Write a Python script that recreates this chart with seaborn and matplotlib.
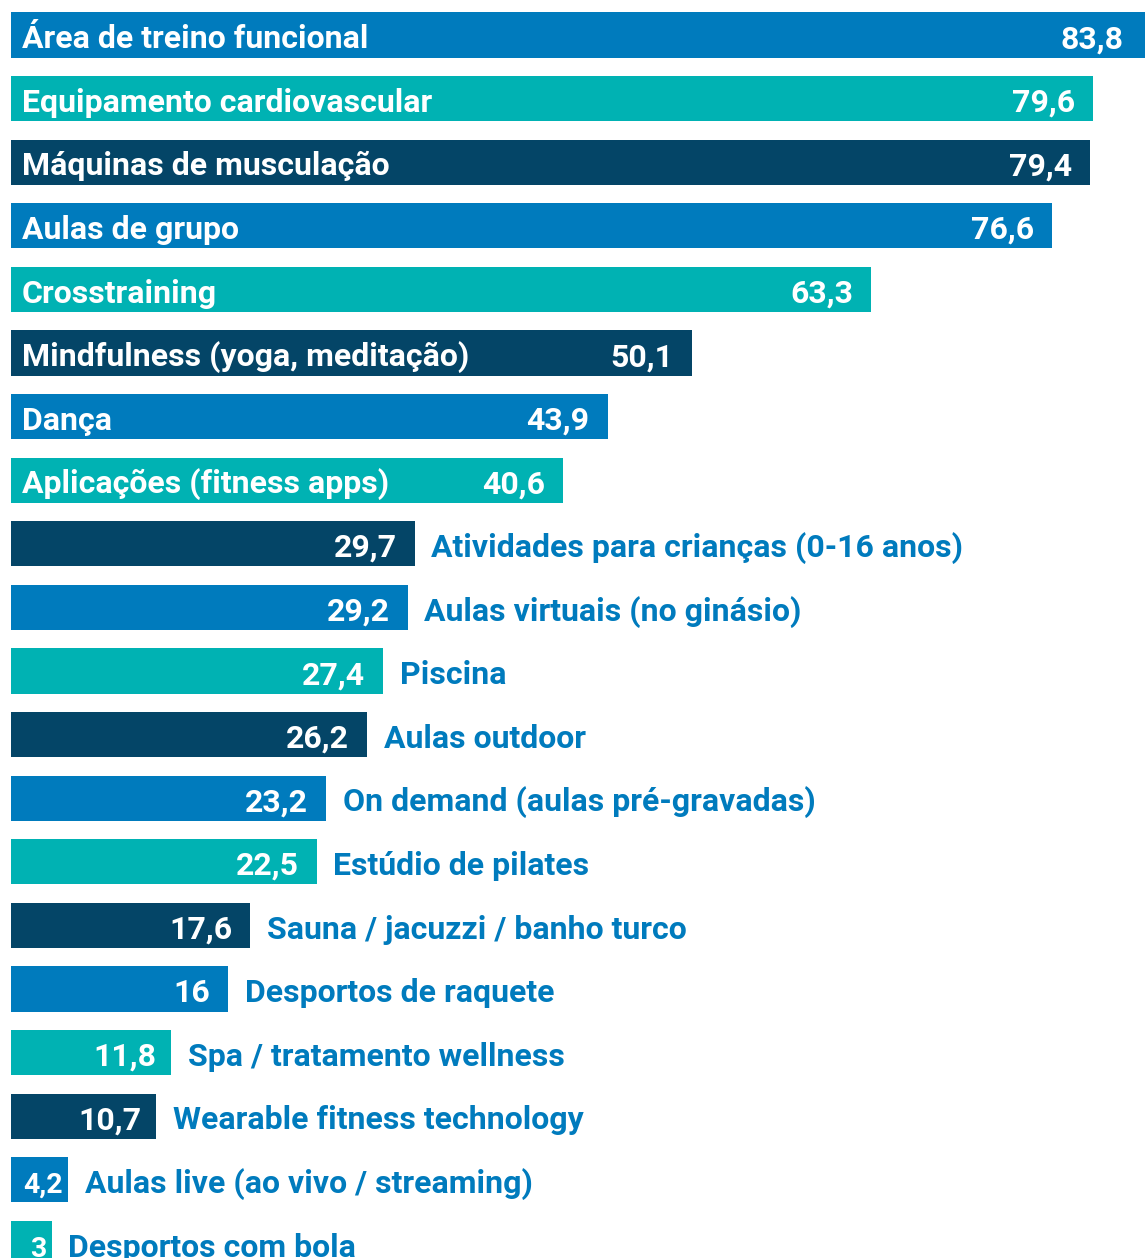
import seaborn as sns
import pandas as pd
import matplotlib.pyplot as plt
from matplotlib import font_manager

# categorias e valores (%)
categorias = [
    "Área de treino funcional", "Equipamento cardiovascular",
    "Máquinas de musculação", "Aulas de grupo", "Crosstraining",
    "Mindfulness (yoga, meditação)", "Dança", "Aplicações (fitness apps)",
    "Atividades para crianças (0-16 anos)", "Aulas virtuais (no ginásio)",
    "Piscina", "Aulas outdoor", "On demand (aulas pré-gravadas)",
    "Estúdio de pilates", "Sauna / jacuzzi / banho turco",
    "Desportos de raquete", "Spa / tratamento wellness",
    "Wearable fitness technology", "Aulas live (ao vivo / streaming)",
    "Desportos com bola",
]
valores = [83.8, 79.6, 79.4, 76.6, 63.3, 50.1, 43.9, 40.6, 29.7, 29.2,
           27.4, 26.2, 23.2, 22.5, 17.6, 16, 11.8, 10.7, 4.2, 3]
rotulos = ["83,8", "79,6", "79,4", "76,6", "63,3", "50,1", "43,9", "40,6",
           "29,7", "29,2", "27,4", "26,2", "23,2", "22,5", "17,6", "16",
           "11,8", "10,7", "4,2", "3"]

azul = "#007bbd"
verde = "#00b2b3"
marinho = "#044567"
cores = [[azul, verde, marinho][i % 3] for i in range(len(categorias))]

installed = {f.name for f in font_manager.fontManager.ttflist}
familia = [f for f in ["Roboto", "DejaVu Sans"] if f in installed]
plt.rcParams['font.family'] = familia

df = pd.DataFrame({"categoria": categorias, "valor": valores})

fig = plt.figure(figsize=(11.45, 12.58), dpi=100)
ax = fig.add_axes([11 / 1145, 0, 1 - 11 / 1145, 1])
sns.barplot(data=df, x="valor", y="categoria", hue="categoria",
            palette=cores, orient="h", width=0.71, legend=False,
            saturation=1, ax=ax)

ax.set_xlim(0, 83.45)
ax.set_ylim(19.23, -0.55)
ax.axis("off")

fs = 23
for i, (cat, v, lab) in enumerate(zip(categorias, valores, rotulos)):
    # valor dentro da barra, à direita
    dx = -4 if v < 5 else (-11 if v < 15 else -13)
    ax.annotate(lab, (min(v, 83.2), i), xytext=(dx, -9.5),
                textcoords="offset points", ha="right", va="baseline",
                color="white", fontsize=fs - (2.5 if v < 5 else 0),
                fontweight="bold", annotation_clip=False)
    if v >= 40:
        ax.annotate(cat, (0, i), xytext=(8, -9.5), textcoords="offset points",
                    ha="left", va="baseline", color="white", fontsize=fs,
                    fontweight="bold", annotation_clip=False)
    else:
        ax.annotate(cat, (v, i), xytext=(12, -9.5), textcoords="offset points",
                    ha="left", va="baseline", color=azul, fontsize=fs,
                    fontweight="bold", annotation_clip=False)

fig.savefig("out.png", dpi=100)
